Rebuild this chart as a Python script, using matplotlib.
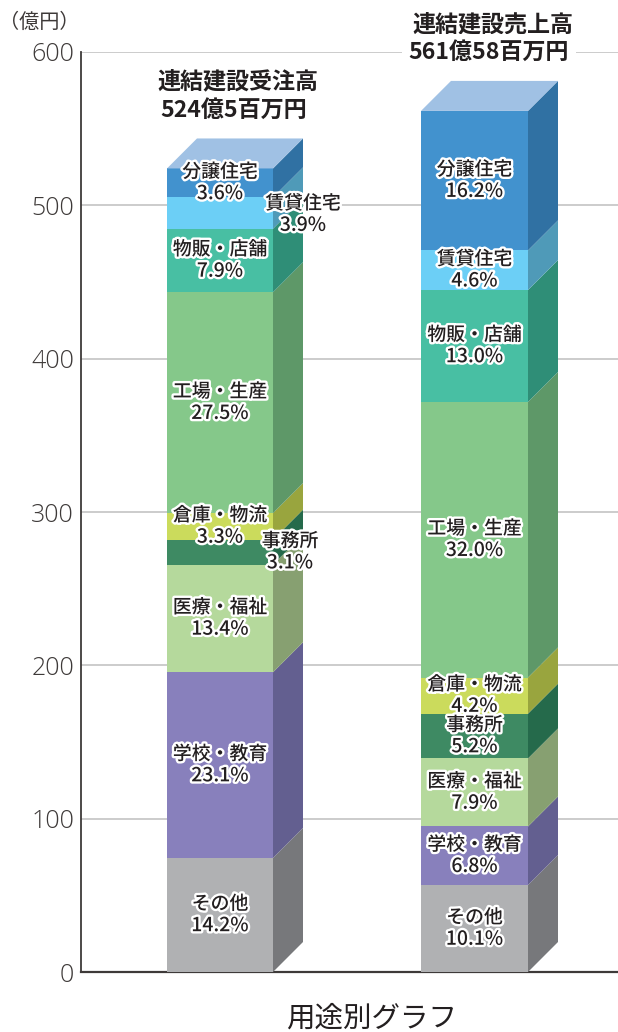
import matplotlib
matplotlib.use("Agg")
import matplotlib.pyplot as plt
import matplotlib.patheffects as pe
from matplotlib.patches import Polygon

plt.rcParams["font.family"] = ["Noto Sans CJK JP", "DejaVu Sans"]

categories = ["その他", "学校・教育", "医療・福祉", "事務所", "倉庫・物流",
              "工場・生産", "物販・店舗", "賃貸住宅", "分譲住宅"]
orders_pct = [14.2, 23.1, 13.4, 3.1, 3.3, 27.5, 7.9, 3.9, 3.6]
sales_pct = [10.1, 6.8, 7.9, 5.2, 4.2, 32.0, 13.0, 4.6, 16.2]
orders_total = 524.05
sales_total = 561.58
orders_title = ["連結建設受注高", "524億5百万円"]
sales_title = ["連結建設売上高", "561億58百万円"]
yticks = [0, 100, 200, 300, 400, 500, 600]

front_colors = ["#b0b1b3", "#8880bc", "#b5d99c", "#3e8a63", "#cbdb5c",
                "#85c88a", "#48bfa3", "#6ccff6", "#4292ce"]
side_colors = ["#77787b", "#635f90", "#87a071", "#256a4b", "#99a53e",
               "#5e9868", "#2f8e77", "#4f9ab8", "#3071a3"]
top_color = "#a0c1e4"

PX = 920 / 600  # pixels per 1 oku yen
DEPTH = 30
halo = [pe.withStroke(linewidth=3.4, foreground="white")]
dark = "#231f20"


def draw_bar(ax, left, width, pct, total, label_shift):
    right = left + width
    dy = DEPTH / PX
    base = 0
    for i, p in enumerate(pct):
        h = total * p / 100
        ax.bar(left, h, width, bottom=base, align="edge", color=front_colors[i], zorder=3)
        ax.add_patch(Polygon(
            [(right, base), (right + DEPTH, base + dy),
             (right + DEPTH, base + h + dy), (right, base + h)],
            closed=True, facecolor=side_colors[i], edgecolor="none", zorder=3,
        ))
        base += h
    ax.add_patch(Polygon(
        [(left, base), (left + DEPTH, base + dy), (right + DEPTH, base + dy), (right, base)],
        closed=True, facecolor=top_color, edgecolor="none", zorder=3,
    ))

    base = 0
    for i, p in enumerate(pct):
        h = total * p / 100
        x = (left + right) / 2 + label_shift.get(i, (0, 0))[0]
        y = base + h / 2 + 0.5 + label_shift.get(i, (0, 0))[1]
        ax.text(x, y + 7, categories[i], ha="center", va="center", fontsize=13.6,
                fontweight="medium", color=dark, path_effects=halo, zorder=6)
        ax.text(x, y - 7.5, f"{p}%", ha="center", va="center", fontsize=14,
                fontweight="medium", color=dark, path_effects=halo, zorder=6)
        base += h


fig = plt.figure(figsize=(6.18, 10.32), dpi=100)
ax = fig.add_axes([81 / 618, 60 / 1032, 537 / 618, 920 / 1032])
ax.set_xlim(81, 618)
ax.set_ylim(0, 600)

ax.set_yticks(yticks)
ax.tick_params(axis="y", length=0, pad=5, labelsize=18, labelcolor="#3e3a39")
for label in ax.get_yticklabels():
    label.set_family("Open Sans")
    label.set_fontweight("light")
ax.set_xticks([])
ax.grid(axis="y", color="#c4c4c4", linewidth=1.2, zorder=1)
ax.set_axisbelow(True)
for side in ["top", "right"]:
    ax.spines[side].set_visible(False)
ax.spines["left"].set_color("#3e3a39")
ax.spines["left"].set_linewidth(1.3)
ax.spines["bottom"].set_color("#3e3a39")
ax.spines["bottom"].set_linewidth(1.6)

# left label 賃貸住宅 and 事務所 stick out past the narrow segments
draw_bar(ax, 167, 106, orders_pct, orders_total, {7: (83, -1), 3: (70, 0)})
draw_bar(ax, 421, 107, sales_pct, sales_total, {})

ax.text(238, 600 - 30 / PX, orders_title[0], ha="center", va="center", fontsize=16.6,
        fontweight="bold", color=dark, zorder=6)
ax.text(234, 600 - 58 / PX, orders_title[1], ha="center", va="center", fontsize=16.6,
        fontweight="bold", color=dark, zorder=6)
ax.text(493, 600 + 27 / PX, sales_title[0], ha="center", va="center", fontsize=16.6,
        fontweight="bold", color=dark, zorder=6)
ax.text(489, 600, sales_title[1], ha="center", va="center", fontsize=16.6,
        fontweight="bold", color=dark, zorder=6,
        bbox=dict(facecolor="white", edgecolor="none", pad=5))

fig.text(39 / 618, 1 - 22 / 1032, "（億円）", ha="center", va="center", fontsize=14.5, color="#3e3a39")
fig.text(372 / 618, 1 - 1019 / 1032, "用途別グラフ", ha="center", va="center", fontsize=20.5, color=dark)

fig.savefig("out.png", dpi=100)
